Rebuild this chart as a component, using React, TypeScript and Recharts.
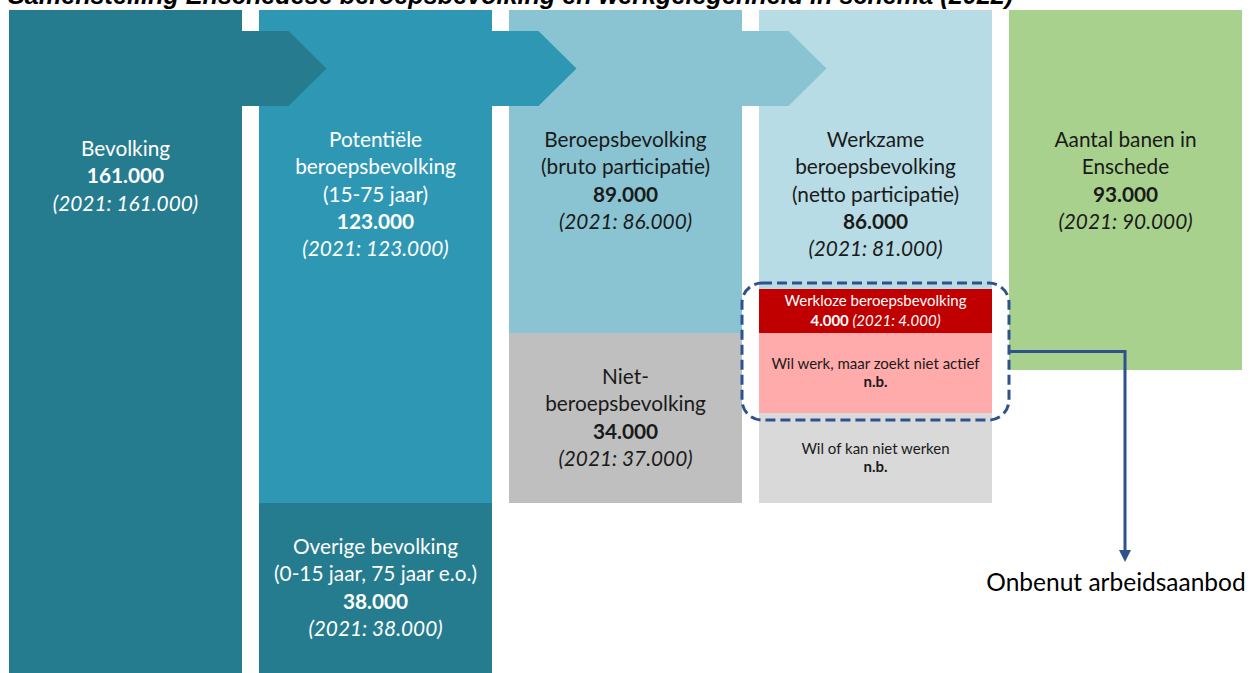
import React from 'react';
import { BarChart, Bar, XAxis, YAxis, Cell, ReferenceArea } from 'recharts';

// ---------- data ----------
const categories = [
  'Bevolking',
  'Potentiële beroepsbevolking',
  'Beroepsbevolking',
  'Werkzame beroepsbevolking',
  'Aantal banen in Enschede',
];

// schematic block sizes (diagram units, stacked from the top)
const topBlock = [663, 493, 323, 279, 360];
const secondBlock = [0, 170, 170, 44, 0];
const thirdBlock = [0, 0, 0, 80, 0];
const fourthBlock = [0, 0, 0, 90, 0];

const topTitles = [
  ['Bevolking'],
  ['Potentiële', 'beroepsbevolking', '(15-75 jaar)'],
  ['Beroepsbevolking', '(bruto participatie)'],
  ['Werkzame', 'beroepsbevolking', '(netto participatie)'],
  ['Aantal banen in', 'Enschede'],
];
const topValues = ['161.000', '123.000', '89.000', '86.000', '93.000'];
const topPrev = ['(2021: 161.000)', '(2021: 123.000)', '(2021: 86.000)', '(2021: 81.000)', '(2021: 90.000)'];

const secondTitles = [[], ['Overige bevolking', '(0-15 jaar, 75 jaar e.o.)'], ['Niet-', 'beroepsbevolking'], ['Werkloze beroepsbevolking'], []];
const secondValues = ['', '38.000', '34.000', '4.000', ''];
const secondPrev = ['', '(2021: 38.000)', '(2021: 37.000)', '(2021: 4.000)', ''];

const thirdTitles = [[], [], [], ['Wil werk, maar zoekt niet actief'], []];
const thirdValues = ['', '', '', 'n.b.', ''];

const fourthTitles = [[], [], [], ['Wil of kan niet werken'], []];
const fourthValues = ['', '', '', 'n.b.', ''];

const titleText = 'Samenstelling Enschedese beroepsbevolking en werkgelegenheid in schema (2022)';
const annotationText = 'Onbenut arbeidsaanbod';

// ---------- styles ----------
const FONT = 'Lato, "Open Sans", sans-serif';
const BAR = 233;
const BIG = 20.8;
const SMALL = 15;
const topColors = ['#267c8f', '#2e98b4', '#8ac4d3', '#b8dce5', '#a9d18e'];
const secondColors = ['#267c8f', '#267c8f', '#bfbfbf', '#c00000', '#a9d18e'];
const thirdColors = ['#fff', '#fff', '#fff', '#ffabab', '#fff'];
const fourthColors = ['#fff', '#fff', '#fff', '#d9d9d9', '#fff'];
const topText = ['#ffffff', '#ffffff', '#1a1a1a', '#1a1a1a', '#1a1a1a'];
const secondText = ['#ffffff', '#ffffff', '#1a1a1a', '#ffffff', '#1a1a1a'];
const darkText = ['#1a1a1a', '#1a1a1a', '#1a1a1a', '#1a1a1a', '#1a1a1a'];
const arrowColors = ['#267b8e', '#2e98b4', '#8ac4d3'];
const topLabelOffset = [146, 137, 137, 137, 137];
const ARROW_BAND: [number, number] = [21, 96];
const BLUE = '#2f528f';

type Part = { t: string; b?: boolean; i?: boolean };
type Line = Part[];

const buildLines = (titles: string[], value: string, prev: string, inline = false): Line[] => {
  const lines: Line[] = titles.map((t) => [{ t }]);
  if (inline && value && prev) {
    lines.push([{ t: value + '  ', b: true }, { t: prev, i: true }]);
  } else {
    if (value) lines.push([{ t: value, b: true }]);
    if (prev) lines.push([{ t: prev, i: true }]);
  }
  return lines;
};

const TextBlock = ({ cx, y0, lines, size, lh, color }: { cx: number; y0: number; lines: Line[]; size: number; lh: number; color: string }) => (
  <text textAnchor="middle" fontFamily={FONT} fontSize={size} fill={color}>
    {lines.map((ln, k) => (
      <tspan key={k} x={cx} y={y0 + k * lh}>
        {ln.map((p, j) => (
          <tspan key={j} fontWeight={p.b ? 700 : 400} fontStyle={p.i ? 'italic' : 'normal'}>
            {p.t}
          </tspan>
        ))}
      </tspan>
    ))}
  </text>
);

const norm = (p: any) => {
  const top = Math.min(p.y, p.y + p.height);
  const h = Math.abs(p.height);
  return { x: p.x, top, w: p.width, h };
};

const makeShape = (
  getLines: (i: number) => Line[],
  mode: 'top' | 'center',
  size: number,
  lh: number,
  colors: string[],
) => (props: any) => {
  const { x, top, w, h } = norm(props);
  const i = props.index;
  if (!h) return <g />;
  const lines = getLines(i);
  const cx = x + w / 2;
  const y0 = mode === 'top'
    ? top + topLabelOffset[i]
    : top + h / 2 - ((lines.length - 1) * lh) / 2 + size * 0.34;
  return (
    <g>
      <rect x={x} y={top} width={w} height={h} fill={props.fill} />
      {lines.length > 0 && <TextBlock cx={cx} y0={y0} lines={lines} size={size} lh={lh} color={colors[i]} />}
    </g>
  );
};

const topShape = makeShape((i) => buildLines(topTitles[i], topValues[i], topPrev[i]), 'top', BIG, 27.3, topText);
const secondBigShape = makeShape((i) => buildLines(secondTitles[i], secondValues[i], secondPrev[i]), 'center', BIG, 27.5, secondText);
const secondSmallShape = makeShape((i) => buildLines(secondTitles[i], secondValues[i], secondPrev[i], true), 'center', SMALL, 19.5, secondText);
const secondShape = (props: any) => (props.index === 3 ? secondSmallShape(props) : secondBigShape(props));
const thirdShape = makeShape((i) => buildLines(thirdTitles[i], thirdValues[i], ''), 'center', SMALL, 17.5, darkText);
const fourthShape = makeShape((i) => buildLines(fourthTitles[i], fourthValues[i], ''), 'center', SMALL, 17.5, darkText);

const arrowShape = (k: number) => (props: any) => {
  const { x, top, w, h } = norm(props);
  const r = x + w / 2 + BAR / 2;
  const d = `M${r - 1},${top} L${r + 47},${top} L${r + 85},${top + h / 2} L${r + 47},${top + h} L${r - 1},${top + h} Z`;
  return <path d={d} fill={arrowColors[k]} />;
};

const boxShape = (props: any) => {
  const { x, top, w, h } = norm(props);
  const bx = x - 8;
  const by = top - 6;
  const bw = w + 17;
  const bh = h + 13;
  const cy = by + bh / 2;
  const ax = x + w * 1.5;
  const tip = top + h + 149;
  return (
    <g>
      <rect x={bx} y={by} width={bw} height={bh} rx={20} ry={20} fill="none" stroke={BLUE} strokeWidth={3} strokeDasharray="10 5" />
      <path d={`M${bx + bw},${cy} L${ax},${cy} L${ax},${tip - 10}`} fill="none" stroke={BLUE} strokeWidth={3} />
      <path d={`M${ax - 6},${tip - 12} L${ax + 6},${tip - 12} L${ax},${tip} Z`} fill={BLUE} />
      <text x={ax - 9} y={tip + 29} textAnchor="middle" fontFamily={FONT} fontSize={24.5} fill="#000">
        {annotationText}
      </text>
    </g>
  );
};

const data = categories.map((name, i) => ({
  name,
  s1: topBlock[i],
  s2: secondBlock[i],
  s3: thirdBlock[i],
  s4: fourthBlock[i],
}));

export default function App() {
  return (
    <div style={{ position: 'absolute', left: 0, top: 0, width: 1258, height: 673, overflow: 'hidden', background: '#fff' }}>
      <div
        style={{
          position: 'absolute',
          left: 8,
          top: -17,
          fontFamily: '"Liberation Sans", Arial, sans-serif',
          fontWeight: 700,
          fontStyle: 'italic',
          fontSize: 25.2,
          lineHeight: '25px',
          whiteSpace: 'nowrap',
          color: '#000',
        }}
      >
        {titleText}
      </div>
      <BarChart
        width={1258}
        height={673}
        data={data}
        margin={{ top: 10, right: 8, bottom: 0, left: 0 }}
        barCategoryGap={0}
        barSize={BAR}
      >
        <XAxis dataKey="name" type="category" hide />
        <YAxis type="number" domain={[0, 663]} reversed hide allowDataOverflow />
        <Bar dataKey="s1" stackId="a" barSize={BAR} isAnimationActive={false} shape={topShape}>
          {data.map((_, i) => <Cell key={i} fill={topColors[i]} />)}
        </Bar>
        <Bar dataKey="s2" stackId="a" barSize={BAR} isAnimationActive={false} shape={secondShape}>
          {data.map((_, i) => <Cell key={i} fill={secondColors[i]} />)}
        </Bar>
        <Bar dataKey="s3" stackId="a" barSize={BAR} isAnimationActive={false} shape={thirdShape}>
          {data.map((_, i) => <Cell key={i} fill={thirdColors[i]} />)}
        </Bar>
        <Bar dataKey="s4" stackId="a" barSize={BAR} isAnimationActive={false} shape={fourthShape}>
          {data.map((_, i) => <Cell key={i} fill={fourthColors[i]} />)}
        </Bar>
        {[0, 1, 2].map((k) => (
          <ReferenceArea
            key={k}
            x1={categories[k]}
            x2={categories[k]}
            y1={ARROW_BAND[0]}
            y2={ARROW_BAND[1]}
            shape={arrowShape(k)}
            {...({ zIndex: 1000 } as any)}
          />
        ))}
        <ReferenceArea
          x1={categories[3]}
          x2={categories[3]}
          y1={topBlock[3]}
          y2={topBlock[3] + secondBlock[3] + thirdBlock[3]}
          shape={boxShape}
          {...({ zIndex: 1000 } as any)}
        />
      </BarChart>
    </div>
  );
}
